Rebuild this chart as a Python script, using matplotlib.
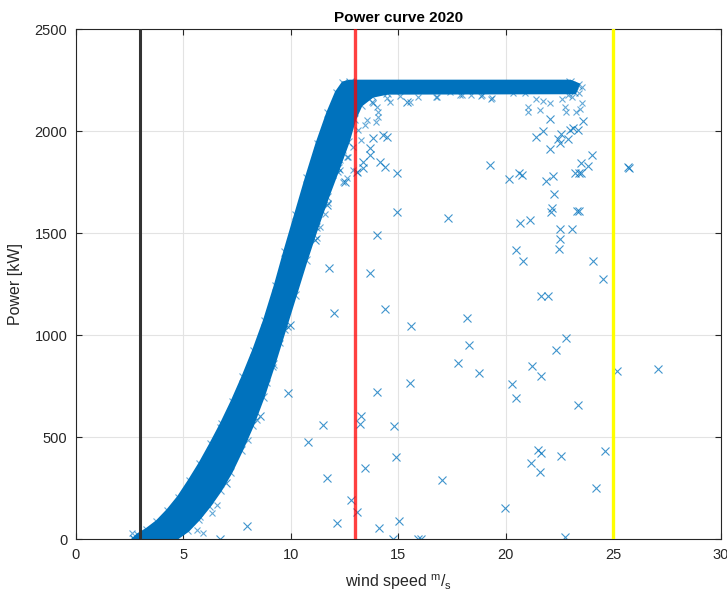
import numpy as np
import matplotlib
matplotlib.use("Agg")
import matplotlib.pyplot as plt

plt.rcParams['font.family'] = ['Liberation Sans', 'DejaVu Sans']
plt.rcParams['mathtext.fontset'] = 'custom'
plt.rcParams['mathtext.rm'] = 'Liberation Sans'

# dense band of the power curve (edges), wind m/s / power kW
band_upper_ws = [2.7, 2.9, 3.3, 3.8, 4.3, 4.8, 5.3, 5.8, 6.3, 6.8, 7.3, 7.8, 8.3, 8.8,
                 9.3, 9.75, 10.25, 10.75, 11.25, 11.75, 12.15, 12.45, 12.75, 23.0, 23.35]
band_upper_pw = [0, 20, 45, 85, 140, 205, 285, 370, 465, 565, 675, 795, 925, 1070,
                 1240, 1410, 1590, 1770, 1940, 2090, 2190, 2235, 2243, 2243, 2228]
band_lower_ws = [23.2, 14.5, 13.8, 13.25, 12.95, 12.65, 12.2, 11.7, 11.2, 10.7, 10.2,
                 9.7, 9.2, 8.7, 8.2, 7.7, 7.2, 6.7, 6.2, 5.7, 5.2, 4.7, 4.5]
band_lower_pw = [2192, 2190, 2175, 2130, 2060, 1950, 1820, 1680, 1530, 1370, 1200,
                 1030, 860, 700, 560, 440, 330, 240, 165, 100, 45, 8, 0]

# loose points next to the band
fuzz_ws = [2.68, 2.60, 3.92, 4.39, 4.85, 5.32, 5.63, 5.78, 6.17, 6.40, 6.56, 5.94, 6.33,
           7.33, 8.03, 8.42, 8.88, 9.19, 9.50, 9.89, 6.71,
           11.75, 11.60, 11.36, 11.21, 12.45, 12.60, 12.21, 12.29, 12.60, 12.45, 12.91,
           12.91, 13.07, 13.46, 13.97, 14.07, 13.53, 13.26, 13.14, 14.0, 13.77, 14.47,
           14.62, 12.45, 12.68, 12.29, 11.98, 15.55, 15.93, 16.79, 17.41, 17.95, 18.88,
           19.35, 15.08, 13.85, 14.07, 16.78, 17.86, 18.40, 18.87, 19.33, 20.34, 20.88,
           21.4, 21.74, 22.08, 21.04, 21.04, 21.58, 22.74, 22.82, 23.26, 23.55, 23.4,
           23.55, 23.45, 23.1, 22.9, 22.6]
fuzz_pw = [5, 29, 5, 29, 46, 86, 46, 111, 193, 225, 168, 29, 127,
           421, 487, 585, 765, 846, 961, 1042, 552,
           1647, 1595, 1532, 1475, 1753, 1770, 1802, 1859, 1876, 1908, 1925,
           1810, 1802, 2031, 2047, 2072, 2055, 1957, 2006, 2120, 2145, 2162,
           2145, 1957, 1876, 1810, 1786, 2145, 2170, 2170, 2194, 2178, 2178,
           2162, 2173, 2137, 2096, 2170, 2178, 2178, 2173, 2157, 2186, 2186,
           2160, 2150, 2140, 2120, 2096, 2104, 2120, 2096, 2096, 2219, 2187,
           2140, 2110, 2170, 2180, 2160]

# isolated outliers
out_ws = [11.80, 13.69, 14.03, 14.93, 14.93, 14.39, 14.16, 13.69, 13.69, 13.35, 13.35,
          13.81, 14.28, 14.49, 13.07, 12.53, 11.67, 11.13, 15.40,
          12.03, 14.39, 15.60, 9.97, 15.55, 14.03, 13.27, 13.22, 11.52, 14.82, 10.82,
          9.89, 14.90, 13.46, 11.67, 12.80, 13.07, 12.14, 15.04, 14.11, 14.74, 15.91,
          16.06, 8.57, 7.95, 6.71, 6.98,
          18.21, 18.28, 17.78, 18.76, 20.29, 20.49, 21.24, 21.63, 22.35, 22.79, 23.36,
          21.50, 21.63, 21.19, 21.61, 22.56, 17.05, 19.98, 22.77,
          17.32, 19.26, 20.15, 20.62, 20.74, 21.86, 22.20, 22.23, 22.17, 22.12, 20.68,
          21.12, 22.51, 23.10, 22.54, 22.48, 20.49, 20.80, 21.63, 21.97, 23.31, 23.21,
          21.42, 21.74, 22.08, 22.08, 22.43, 22.59, 22.51, 22.90, 22.98, 23.13,
          23.61, 23.35, 24.01, 23.50, 23.81, 23.42, 23.50, 25.70, 25.74, 23.42, 24.05,
          24.51, 25.16, 27.10, 24.63, 24.20]
out_pw = [1328, 1307, 1492, 1606, 1797, 1827, 1851, 1884, 1917, 1851, 1819,
          1966, 1982, 1971, 1802, 1753, 1639, 1467, 2145,
          1108, 1129, 1046, 1050, 768, 720, 606, 564, 560, 557, 475,
          719, 402, 348, 302, 193, 132, 81, 90, 54, 0, 0,
          0, 604, 67, 0, 274,
          1083, 952, 863, 817, 761, 694, 851, 802, 928, 988, 658,
          438, 422, 375, 328, 408, 291, 152, 10,
          1574, 1833, 1768, 1794, 1786, 1756, 1781, 1693, 1622, 1603, 1549,
          1565, 1520, 1520, 1471, 1423, 1418, 1364, 1193, 1193, 1609, 1794,
          1974, 2002, 2059, 1912, 1962, 1987, 1941, 1962, 2006, 2015,
          2052, 2006, 1884, 1846, 1830, 1794, 1794, 1827, 1820, 1609, 1364,
          1274, 826, 835, 434, 250]

cut_in = 3
rated = 13
cut_out = 25

blue = '#0072BD'
ink = '#262626'

fig = plt.figure(figsize=(7.27, 5.96), dpi=100)
ax = fig.add_axes([0.1041, 0.0951, 0.8872, 0.8557])

edge_ws = band_upper_ws + band_lower_ws
edge_pw = band_upper_pw + band_lower_pw
ax.fill(edge_ws, edge_pw, color=blue, lw=3, ec=blue, zorder=2)
ax.plot(edge_ws, edge_pw, 'x', color=blue, ms=6, mew=0.8, alpha=0.6, zorder=2)
ax.plot(fuzz_ws, fuzz_pw, 'x', color=blue, ms=5, mew=0.8, alpha=0.6, zorder=2)
ax.plot(out_ws, out_pw, 'x', color=blue, ms=5.5, mew=0.8, alpha=0.75, zorder=2)

ax.axvline(cut_in, color='#333333', lw=2.2, zorder=3)
ax.axvline(rated, color='red', lw=2.4, alpha=0.75, zorder=3)
ax.axvline(cut_out, color='#FFFF00', lw=2.4, zorder=3)

ax.set_xlim(0, 30)
ax.set_ylim(0, 2500)
ax.set_xticks(np.arange(0, 31, 5))
ax.set_yticks(np.arange(0, 2501, 500))
ax.grid(True, color='#E3E3E3', lw=0.8, zorder=0)
ax.set_axisbelow(True)
ax.tick_params(direction='in', top=True, right=True, length=4, width=0.8,
               colors=ink, labelsize=10.5, pad=6)
for s in ax.spines.values():
    s.set_color(ink)
    s.set_linewidth(0.8)

ax.set_title('Power curve 2020', fontsize=11, fontweight='bold', color='black', pad=5)
ax.set_xlabel(r'wind speed $^\mathrm{m}/_\mathrm{s}$', fontsize=11.5, color=ink, labelpad=8)
ax.set_ylabel('Power [kW]', fontsize=11.5, color=ink, labelpad=8)

fig.savefig('out.png', dpi=100)
